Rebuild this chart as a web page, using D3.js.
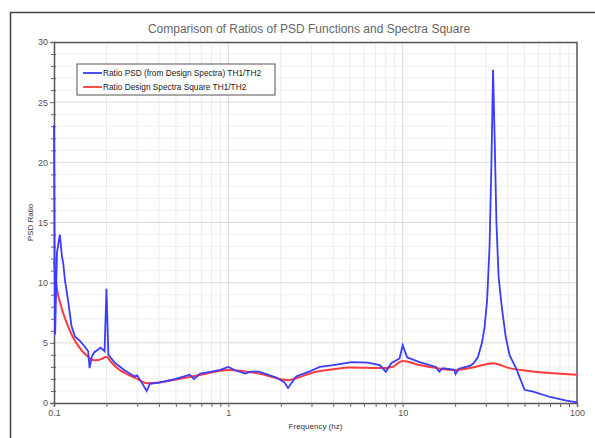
<!DOCTYPE html>
<html>
<head>
<meta charset="utf-8">
<script src="https://cdn.jsdelivr.net/npm/d3@7"></script>
<style>
  body { margin: 0; background: #fff; }
  svg text { font-family: "Liberation Sans", Arial, sans-serif; }
</style>
</head>
<body>
<div id="chart"></div>
<script>
// blue: Ratio PSD (from Design Spectra) TH1/TH2
const psdFreq = [0.1, 0.1008, 0.1015, 0.104, 0.108, 0.111, 0.113, 0.1156, 0.121, 0.126, 0.132, 0.14, 0.15,
  0.157, 0.16, 0.165, 0.17, 0.185, 0.195, 0.2, 0.205, 0.225, 0.255, 0.29, 0.3, 0.32, 0.34, 0.355, 0.4,
  0.5, 0.6, 0.635, 0.69, 0.8, 0.9, 1.0, 1.1, 1.25, 1.35, 1.5, 1.9, 2.1, 2.2, 2.45, 2.9, 3.35, 4.0, 5.1,
  6.3, 7.4, 8.0, 8.6, 9.6, 10.0, 10.6, 12.5, 15.5, 16.2, 17, 19.8, 20.1, 21, 24.5, 25.5, 27, 28.5, 29.5,
  30.5, 31.5, 32.3, 33.0, 33.7, 34.5, 35.5, 37, 39, 41, 45, 50, 56, 70, 87, 100];
const psdRatio = [23.1, 12, 5.7, 12.5, 14.0, 12.2, 11.6, 10.2, 8.3, 6.4, 5.5, 5.2, 4.7,
  4.3, 2.9, 3.9, 4.2, 4.6, 4.3, 9.5, 4.0, 3.3, 2.7, 2.2, 2.3, 1.65, 1.0, 1.6, 1.7,
  2.0, 2.35, 2.0, 2.45, 2.6, 2.75, 3.0, 2.7, 2.45, 2.6, 2.6, 2.1, 1.7, 1.25, 2.2, 2.6, 3.0, 3.15, 3.4,
  3.35, 3.15, 2.6, 3.3, 3.7, 4.8, 3.8, 3.4, 3.0, 2.6, 2.9, 2.75, 2.4, 2.85, 3.1, 3.3, 3.8, 5.0, 6.3,
  8.5, 13, 20, 27.7, 22, 15, 10.5, 8.0, 5.5, 4.0, 2.8, 1.1, 0.95, 0.5, 0.2, 0.05];

// red: Ratio Design Spectra Square TH1/TH2
const specFreq = [0.1, 0.104, 0.11, 0.118, 0.128, 0.14, 0.155, 0.165, 0.175, 0.19, 0.2, 0.21, 0.23,
  0.27, 0.3, 0.34, 0.4, 0.5, 0.7, 1.0, 1.5, 2.2, 2.5, 3, 4, 5, 7.5, 8.7, 10, 12.5, 15.7, 20, 26, 33,
  41, 50, 100];
const specRatio = [11.8, 9.5, 8.0, 6.7, 5.5, 4.6, 3.9, 3.6, 3.55, 3.7, 3.85, 3.5, 2.9,
  2.3, 2.0, 1.65, 1.7, 1.95, 2.35, 2.75, 2.45, 1.9, 2.1, 2.5, 2.8, 2.95, 2.9, 3.0, 3.5, 3.15, 2.9, 2.75, 3.0, 3.3,
  2.9, 2.7, 2.35];

const xTicks = [0.1, 1, 10, 100];
const yTicks = [0, 5, 10, 15, 20, 25, 30];
const legendLabels = ["Ratio PSD (from Design Spectra) TH1/TH2", "Ratio Design Spectra Square TH1/TH2"];

const W = 595, H = 438;
const margin = { top: 42, right: 18, bottom: 35, left: 54 };
const width = W - margin.left - margin.right;
const height = H - margin.top - margin.bottom;

const svg = d3.select("#chart").append("svg")
  .attr("width", W)
  .attr("height", H);

// outer frame
svg.append("path")
  .attr("d", "M10.5," + H + "V12.5H" + W)
  .attr("fill", "none")
  .attr("stroke", "#444")
  .attr("stroke-width", 1.5);

svg.append("text")
  .attr("x", 309)
  .attr("y", 33)
  .attr("text-anchor", "middle")
  .attr("font-size", 12)
  .attr("fill", "#666")
  .text("Comparison of Ratios of PSD Functions and Spectra Square");

const g = svg.append("g")
  .attr("transform", "translate(" + margin.left + "," + margin.top + ")");

const x = d3.scaleLog().domain([0.1, 100]).range([0, width]);
const y = d3.scaleLinear().domain([0, 30]).range([height, 0]);

// grid
const minorX = x.ticks().filter(d => !xTicks.includes(d));
g.append("g").selectAll("line").data(minorX).enter().append("line")
  .attr("x1", d => x(d)).attr("x2", d => x(d))
  .attr("y1", 0).attr("y2", height)
  .attr("stroke", "#ebebeb");
g.append("g").selectAll("line").data(d3.range(1, 30).filter(d => d % 5 !== 0)).enter().append("line")
  .attr("x1", 0).attr("x2", width)
  .attr("y1", d => y(d)).attr("y2", d => y(d))
  .attr("stroke", "#f0f0f0");
g.append("g").selectAll("line").data(xTicks.slice(1, -1)).enter().append("line")
  .attr("x1", d => x(d)).attr("x2", d => x(d))
  .attr("y1", 0).attr("y2", height)
  .attr("stroke", "#d8d8d8");
g.append("g").selectAll("line").data(yTicks.slice(1, -1)).enter().append("line")
  .attr("x1", 0).attr("x2", width)
  .attr("y1", d => y(d)).attr("y2", d => y(d))
  .attr("stroke", "#dcdcdc");

// axes
const xAxis = g.append("g")
  .attr("transform", "translate(0," + height + ")")
  .call(d3.axisBottom(x).tickValues(x.ticks()).tickSize(4).tickFormat(d => xTicks.includes(d) ? d : ""));
const yAxis = g.append("g")
  .call(d3.axisLeft(y).tickValues(d3.range(0, 31)).tickSize(3).tickFormat(d => d % 5 === 0 ? d : ""));
[xAxis, yAxis].forEach(a => {
  a.select(".domain").attr("stroke", "#555").attr("stroke-width", 1.5);
  a.selectAll(".tick line").attr("stroke", "#666");
  a.selectAll(".tick text").attr("fill", "#555").attr("font-size", 9)
    .attr("font-family", "Liberation Sans, Arial, sans-serif");
});
yAxis.selectAll(".tick line").attr("x2", d => d % 5 === 0 ? -4 : -3).attr("x1", d => d % 5 === 0 ? 0 : 2);

// plot frame top/right
g.append("path")
  .attr("d", "M0,0.5H" + width + "V" + height)
  .attr("fill", "none")
  .attr("stroke", "#555")
  .attr("stroke-width", 1.5);

// lines
const line = d3.line().x(d => x(d[0])).y(d => y(d[1]));
g.append("path")
  .datum(d3.zip(specFreq, specRatio))
  .attr("fill", "none")
  .attr("stroke", "#ff3b3b")
  .attr("stroke-width", 2)
  .attr("d", line.curve(d3.curveMonotoneX));
g.append("path")
  .datum(d3.zip(psdFreq, psdRatio))
  .attr("fill", "none")
  .attr("stroke", "#3a3cff")
  .attr("stroke-width", 1.8)
  .attr("d", line.curve(d3.curveLinear));

// axis titles
svg.append("text")
  .attr("x", margin.left + width / 2)
  .attr("y", 429)
  .attr("text-anchor", "middle")
  .attr("font-size", 8)
  .attr("fill", "#333")
  .text("Frequency (hz)");
svg.append("text")
  .attr("transform", "translate(33," + (margin.top + height / 2) + ") rotate(-90)")
  .attr("text-anchor", "middle")
  .attr("font-size", 8)
  .attr("fill", "#333")
  .text("PSD Ratio");

// legend
const legend = svg.append("g").attr("transform", "translate(77,64)");
legend.append("rect")
  .attr("width", 198).attr("height", 31)
  .attr("fill", "#fff").attr("stroke", "#555").attr("stroke-width", 1);
const colors = ["#3a3cff", "#ff3b3b"];
legendLabels.forEach((t, i) => {
  legend.append("line")
    .attr("x1", 6).attr("x2", 25)
    .attr("y1", 9 + i * 14).attr("y2", 9 + i * 14)
    .attr("stroke", colors[i]).attr("stroke-width", 1.8);
  legend.append("text")
    .attr("x", 26).attr("y", 12 + i * 14)
    .attr("font-size", 8.3)
    .attr("fill", "#222")
    .text(t);
});
</script>
</body>
</html>
